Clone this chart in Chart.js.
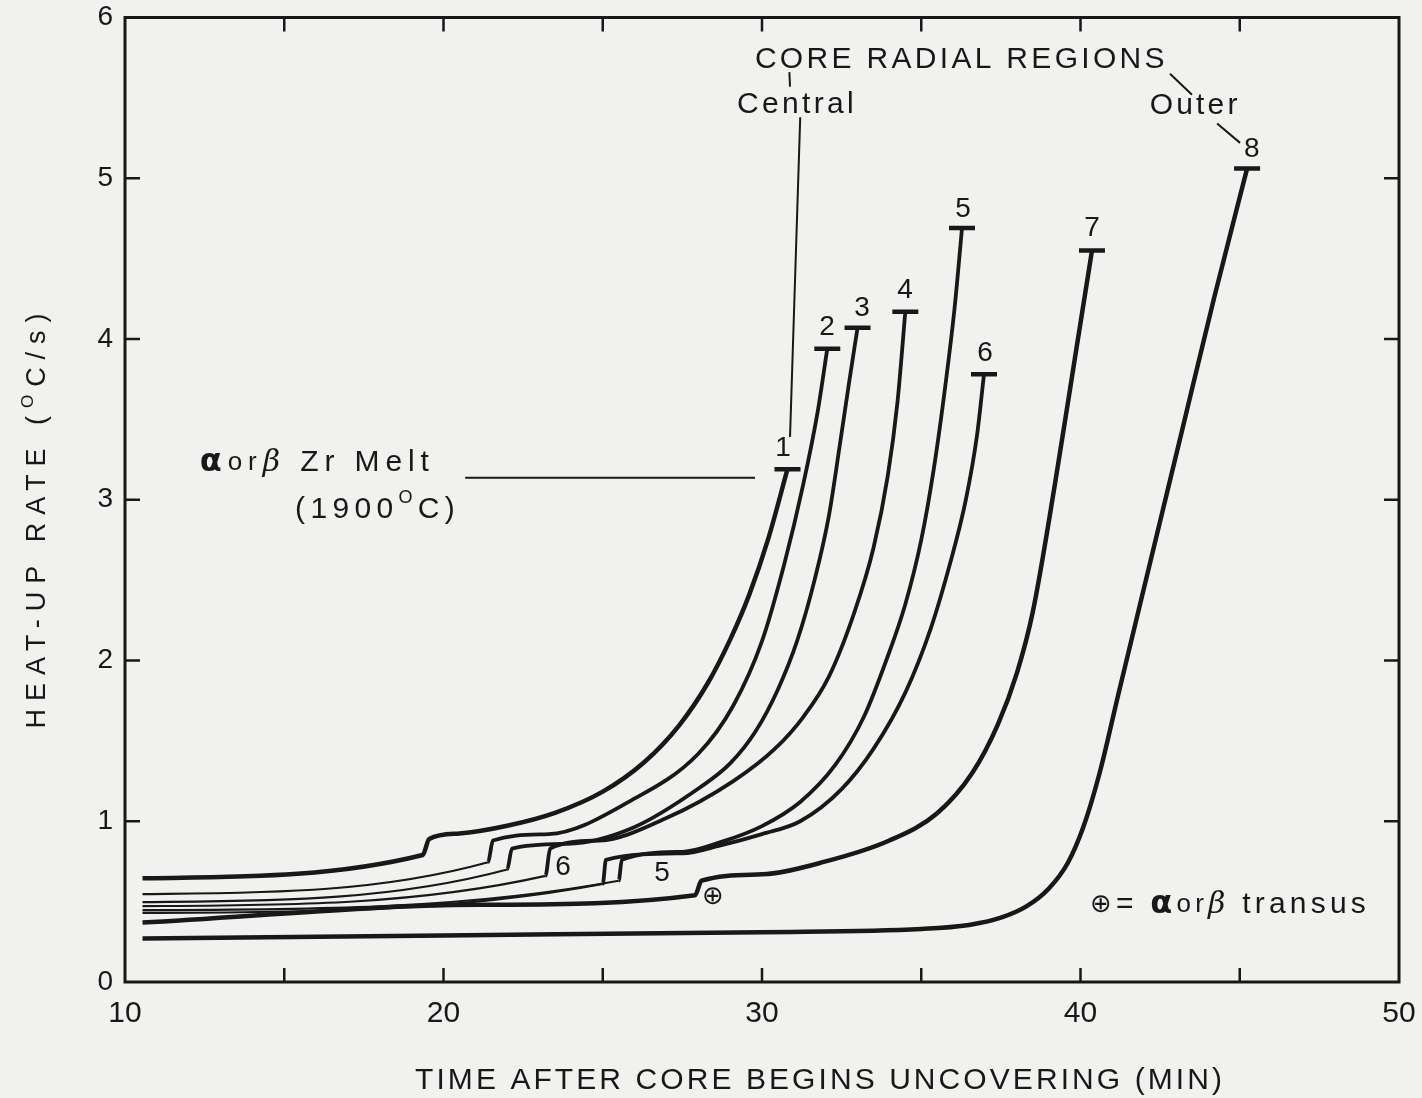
<!DOCTYPE html>
<html>
<head>
<meta charset="utf-8">
<script src="https://cdn.jsdelivr.net/npm/chart.js@4.4.1/dist/chart.umd.min.js"></script>
<style>
  html, body { margin: 0; padding: 0; background: #f1f1ef; }
  canvas { display: block; }
</style>
</head>
<body>
<canvas id="heatChart" width="1422" height="1098"></canvas>
<script>
// axis tick labels
const xTickLabels = [10, 20, 30, 40, 50];
const yTickLabels = [0, 1, 2, 3, 4, 5, 6];

// heat-up rate per core radial region, [time after uncovering (min), rate (C/s)]
const region1 = [[10.55, 0.645], [19.35, 0.79], [19.55, 0.89], [20.5, 0.924], [22.0, 0.972], [23.5, 1.052], [25.0, 1.184], [26.3, 1.367], [27.4, 1.597], [28.3, 1.86], [29.0, 2.13], [29.6, 2.41], [30.2, 2.76], [30.8, 3.19]];
const region2 = [[10.55, 0.547], [21.4, 0.745], [21.55, 0.88], [23.3, 0.92], [25.9, 1.13], [28.0, 1.42], [29.1, 1.72], [30.0, 2.12], [30.7, 2.6], [31.3, 3.1], [31.75, 3.55], [32.05, 3.94]];
const region3 = [[10.55, 0.497], [22.0, 0.70], [22.15, 0.83], [23.9, 0.86], [25.95, 0.96], [28.05, 1.21], [29.0, 1.36], [29.8, 1.56], [30.5, 1.82], [31.1, 2.12], [31.65, 2.5], [32.1, 2.9], [32.45, 3.35], [32.75, 3.75], [33.0, 4.07]];
const region4 = [[10.55, 0.472], [23.2, 0.66], [23.35, 0.83], [24.9, 0.88], [27.0, 1.02], [29.1, 1.25], [30.4, 1.45], [31.3, 1.65], [32.1, 1.9], [32.9, 2.3], [33.5, 2.7], [33.95, 3.15], [34.25, 3.6], [34.5, 4.17]];
const region5 = [[10.55, 0.447], [25.5, 0.63], [25.6, 0.76], [27.5, 0.81], [28.7, 0.87], [30.0, 0.97], [31.2, 1.12], [32.3, 1.35], [33.2, 1.65], [33.9, 2.0], [34.5, 2.35], [35.0, 2.75], [35.4, 3.2], [35.75, 3.7], [36.05, 4.2], [36.28, 4.69]];
const region6 = [[10.55, 0.43], [25.0, 0.61], [25.1, 0.76], [27.5, 0.80], [28.7, 0.85], [30.0, 0.92], [31.2, 1.0], [32.5, 1.2], [33.5, 1.45], [34.5, 1.8], [35.3, 2.2], [35.9, 2.6], [36.4, 3.0], [36.75, 3.4], [36.97, 3.78]];
const region7 = [[10.55, 0.37], [21.1, 0.48], [27.9, 0.54], [28.1, 0.63], [30.0, 0.67], [32.0, 0.75], [34.0, 0.88], [35.5, 1.05], [36.6, 1.3], [37.4, 1.6], [38.0, 1.92], [38.5, 2.3], [39.2, 3.1], [39.8, 3.85], [40.36, 4.55]];
const region8 = [[10.55, 0.27], [20.0, 0.29], [30.0, 0.31], [35.0, 0.33], [36.5, 0.355], [37.5, 0.40], [38.3, 0.47], [39.0, 0.58], [39.6, 0.74], [40.1, 0.97], [40.6, 1.3], [41.2, 1.8], [42.2, 2.62], [43.2, 3.44], [44.2, 4.26], [45.23, 5.06]];

const regionLabels = ["1", "2", "3", "4", "5", "6", "7", "8"];
// time of the alpha/beta transus step in each region (null = drawn heavy all along)
const stepTimes = [null, 21.45, 22.1, 23.3, 25.55, 25.05, null, null];

const ink = "#181818";
const sans = '"Liberation Sans", Arial, sans-serif';
const regions = [region1, region2, region3, region4, region5, region6, region7, region8];
const heavy = [true, false, false, false, false, false, true, true];

const datasets = regions.map((pts, i) => ({
    label: regionLabels[i],
    data: pts.map(p => ({ x: p[0], y: p[1] })),
    borderColor: ink,
    borderWidth: heavy[i] ? 4.5 : 3.8,
    cubicInterpolationMode: "monotone",
    fill: false,
    pointStyle: "line",
    pointBorderColor: ink,
    pointBorderWidth: 4.5,
    pointRadius: pts.map((p, k) => k == pts.length - 1 ? 13 : 0),
    segment: {
        borderWidth: c => (stepTimes[i] && c.p1.parsed.x <= stepTimes[i]) ? 2.2 : undefined,
    },
}));

// draws a run of text pieces, spreading the letters to a given width
function drawPieces(ctx, pieces, x, y, width, align) {
    ctx.letterSpacing = "0px";
    let natural = 0, count = 0;
    pieces.forEach(p => {
        ctx.font = p.f;
        natural += ctx.measureText(p.t).width;
        count += p.t.length;
    });
    let spacing = width ? Math.max(0, (width - natural) / count) : 0;
    let total = natural + spacing * count;
    let cx = align == "center" ? x - total / 2 : x;
    ctx.textAlign = "left";
    ctx.textBaseline = "middle";
    pieces.forEach(p => {
        ctx.font = p.f;
        ctx.letterSpacing = spacing + "px";
        ctx.fillText(p.t, cx, y + (p.dy || 0));
        cx += ctx.measureText(p.t).width;
    });
    ctx.letterSpacing = "0px";
}

const decorations = {
    id: "decorations",
    afterDraw(chart) {
        const ctx = chart.ctx;
        const xs = chart.scales.x, ys = chart.scales.y;
        const area = chart.chartArea;
        const px = v => xs.getPixelForValue(v);
        const py = v => ys.getPixelForValue(v);
        ctx.save();
        ctx.strokeStyle = ink;
        ctx.fillStyle = ink;

        // frame with inward tick marks
        ctx.lineWidth = 3;
        ctx.strokeRect(area.left, area.top, area.right - area.left, area.bottom - area.top);
        ctx.lineWidth = 2.5;
        ctx.beginPath();
        for (let v = 15; v < 50; v += 5) {
            ctx.moveTo(px(v), area.bottom); ctx.lineTo(px(v), area.bottom - 14);
            ctx.moveTo(px(v), area.top); ctx.lineTo(px(v), area.top + 14);
        }
        for (let v = 1; v < 6; v++) {
            ctx.moveTo(area.left, py(v)); ctx.lineTo(area.left + 15, py(v));
            ctx.moveTo(area.right, py(v)); ctx.lineTo(area.right - 15, py(v));
        }
        ctx.stroke();

        // pointer lines
        ctx.lineWidth = 2;
        ctx.beginPath();
        ctx.moveTo(px(20.68), py(3.137)); ctx.lineTo(px(29.78), py(3.137));
        ctx.moveTo(px(30.86), py(5.66)); ctx.lineTo(px(30.88), py(5.57));
        ctx.moveTo(px(31.2), py(5.38)); ctx.lineTo(px(30.88), py(3.39));
        ctx.moveTo(px(42.81), py(5.65)); ctx.lineTo(px(43.5), py(5.52));
        ctx.moveTo(px(44.29), py(5.34)); ctx.lineTo(px(45.01), py(5.22));
        ctx.stroke();

        // region numbers at curve ends and on the steps
        ctx.font = "28px " + sans;
        ctx.textAlign = "center";
        ctx.textBaseline = "middle";
        const numPos = [[30.66, 3.32], [32.04, 4.07], [33.14, 4.19], [34.49, 4.30], [36.31, 4.81], [37.0, 3.91], [40.36, 4.69], [45.38, 5.18]];
        numPos.forEach((p, i) => ctx.fillText(regionLabels[i], px(p[0]), py(p[1])));
        ctx.fillText("6", px(23.75), py(0.714));
        ctx.fillText("5", px(26.86), py(0.677));
        ctx.font = '26px "DejaVu Sans"';
        ctx.fillText("\u2295", px(28.46), py(0.528));

        const f30 = "30px " + sans;
        drawPieces(ctx, [{ t: "CORE RADIAL REGIONS", f: f30 }], px(36.26), py(5.74), 413, "center");
        drawPieces(ctx, [{ t: "Central", f: f30 }], px(31.1), py(5.46), 120, "center");
        drawPieces(ctx, [{ t: "Outer", f: f30 }], px(43.6), py(5.45), 91, "center");
        drawPieces(ctx, [
            { t: "\u03b1", f: 'bold 32px "DejaVu Sans"' },
            { t: "or", f: "26px " + sans },
            { t: "\u03b2", f: 'italic 30px "DejaVu Serif"' },
            { t: " Zr Melt", f: f30 },
        ], px(12.35), py(3.23), 235, "left");
        drawPieces(ctx, [
            { t: "(1900", f: f30 },
            { t: "O", f: "18px " + sans, dy: -11 },
            { t: "C)", f: f30 },
        ], px(15.34), py(2.94), 165, "left");
        drawPieces(ctx, [
            { t: "\u2295", f: '26px "DejaVu Sans"' },
            { t: "= ", f: f30 },
            { t: "\u03b1", f: 'bold 32px "DejaVu Sans"' },
            { t: "or", f: "26px " + sans },
            { t: "\u03b2", f: 'italic 30px "DejaVu Serif"' },
            { t: " transus", f: f30 },
        ], px(40.3), py(0.479), 280, "left");

        // axis titles
        drawPieces(ctx, [{ t: "TIME AFTER CORE BEGINS UNCOVERING (MIN)", f: f30 }], 820, 1081, 810, "center");
        ctx.translate(38, 517);
        ctx.rotate(-Math.PI / 2);
        drawPieces(ctx, [
            { t: "HEAT-UP RATE (", f: "27px " + sans },
            { t: "O", f: "17px " + sans, dy: -10 },
            { t: "C/s)", f: "27px " + sans },
        ], 0, 0, 423, "center");
        ctx.restore();
    }
};

const ctx = document.getElementById("heatChart").getContext("2d");
const heatChart = new Chart(ctx, {
    type: "line",
    data: { datasets: datasets },
    options: {
        responsive: false,
        animation: false,
        events: [],
        layout: { padding: { top: 16, right: 23, left: 0, bottom: 0 } },
        plugins: { legend: { display: false }, tooltip: { enabled: false } },
        scales: {
            x: {
                type: "linear",
                min: 10,
                max: 50,
                afterBuildTicks: s => { s.ticks = xTickLabels.map(v => ({ value: v })); },
                afterFit: s => { s.height = 116; s.paddingLeft = 0; s.paddingRight = 0; },
                grid: { display: false, drawTicks: false },
                border: { display: false },
                ticks: { padding: 14, color: ink, maxRotation: 0, autoSkip: false, font: { family: sans, size: 30 } },
            },
            y: {
                type: "linear",
                min: 0,
                max: 6,
                afterBuildTicks: s => { s.ticks = yTickLabels.map(v => ({ value: v })); },
                afterFit: s => { s.width = 125; s.paddingTop = 0; s.paddingBottom = 0; },
                grid: { display: false, drawTicks: false },
                border: { display: false },
                ticks: { padding: 12, color: ink, font: { family: sans, size: 28 } },
            },
        },
    },
    plugins: [decorations],
});
</script>
</body>
</html>
